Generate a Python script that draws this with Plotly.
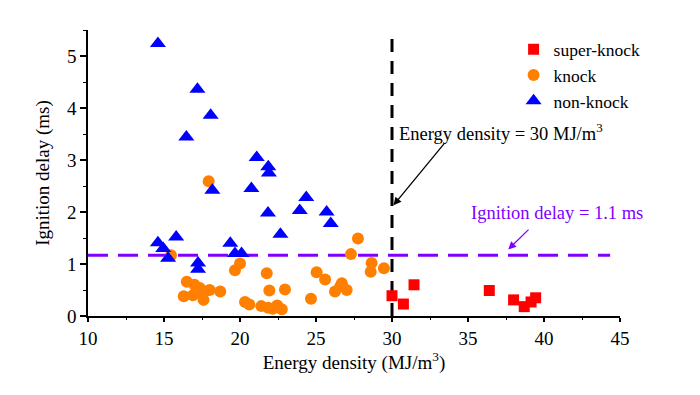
import plotly.graph_objects as go

# ---- data ----
super_x = [30.0, 30.75, 31.45, 36.4, 38.0, 38.7, 39.15, 39.45]
super_y = [0.39, 0.23, 0.60, 0.49, 0.31, 0.18, 0.27, 0.35]

knock_x = [15.46, 17.94, 16.5, 16.3, 16.9, 17.0, 17.35, 17.6, 17.7, 18.0, 18.7, 17.2,
           19.67, 20.0, 21.76, 21.93, 22.96, 20.33, 20.61, 21.4, 21.85, 22.15, 22.45, 22.75,
           24.67, 25.04, 25.6, 26.25, 26.6, 26.7, 27.02, 27.3, 27.76, 28.66, 28.6, 29.47]
knock_y = [1.17, 2.59, 0.66, 0.38, 0.40, 0.60, 0.54, 0.31, 0.47, 0.50, 0.47, 0.45,
           0.88, 1.01, 0.82, 0.49, 0.51, 0.27, 0.22, 0.19, 0.16, 0.14, 0.20, 0.13,
           0.33, 0.84, 0.70, 0.47, 0.57, 0.63, 0.50, 1.19, 1.49, 1.02, 0.85, 0.92]

non_x = [14.6, 17.2, 18.07, 16.47, 21.1, 21.86, 21.9, 18.18, 20.75, 24.36, 23.93, 21.84,
         25.7, 25.97, 22.66, 15.8, 14.6, 14.95, 15.27, 17.24, 17.24, 19.36, 19.67, 20.1]
non_y = [5.24, 4.36, 3.86, 3.44, 3.05, 2.87, 2.75, 2.42, 2.45, 2.28, 2.03, 1.98,
         2.0, 1.78, 1.57, 1.52, 1.41, 1.30, 1.11, 1.02, 0.90, 1.40, 1.20, 1.20]

energy_line_x = [30, 30]
energy_line_y = [0, 5.45]
delay_line_x = [10, 44.35]
delay_line_y = [1.17, 1.17]

x_ticks = [10, 15, 20, 25, 30, 35, 40, 45]
y_ticks = [0, 1, 2, 3, 4, 5]

FONT = "Liberation Serif"

fig = go.Figure()

fig.add_trace(go.Scatter(x=energy_line_x, y=energy_line_y, mode="lines",
                         line=dict(color="black", width=3, dash="13px,9px"),
                         showlegend=False, hoverinfo="skip"))
fig.add_trace(go.Scatter(x=delay_line_x, y=delay_line_y, mode="lines",
                         line=dict(color="#8000FF", width=3, dash="20px,10px"),
                         showlegend=False, hoverinfo="skip"))

fig.add_trace(go.Scatter(x=super_x, y=super_y, mode="markers", name="super-knock",
                         marker=dict(symbol="square", size=11, color="#FF0000")))
fig.add_trace(go.Scatter(x=knock_x, y=knock_y, mode="markers", name="knock",
                         marker=dict(symbol="circle", size=12, color="#FF8000")))
fig.add_trace(go.Scatter(x=non_x, y=non_y, mode="markers", name="non-knock",
                         marker=dict(symbol="triangle-up", size=14, color="#0000FF")))

fig.add_annotation(x=30.1, y=2.13, ax=33.5, ay=3.34, xref="x", yref="y",
                   axref="x", ayref="y", text="", showarrow=True,
                   arrowhead=2, arrowsize=1.2, arrowwidth=1.3, arrowcolor="black")
fig.add_annotation(x=30.3, y=3.54, xref="x", yref="y", xanchor="left", yanchor="middle",
                   text="Energy density = 30 MJ/m<sup>3</sup>", showarrow=False,
                   font=dict(family=FONT, size=18.5, color="black"))
fig.add_annotation(x=37.65, y=1.28, ax=39.08, ay=1.69, xref="x", yref="y",
                   axref="x", ayref="y", text="", showarrow=True,
                   arrowhead=2, arrowsize=1.2, arrowwidth=1.3, arrowcolor="#8000FF")
fig.add_annotation(x=40.83, y=1.98, xref="x", yref="y", xanchor="center", yanchor="middle",
                   text="Ignition delay = 1.1 ms", showarrow=False,
                   font=dict(family=FONT, size=18.5, color="#8000FF"))

fig.update_layout(
    width=692, height=387,
    margin=dict(l=80, r=80, t=22, b=79),
    paper_bgcolor="white", plot_bgcolor="white",
    font=dict(family=FONT, size=18, color="black"),
    showlegend=True,
    legend=dict(x=0.80, y=0.995, xanchor="left", yanchor="top",
                bgcolor="rgba(0,0,0,0)", font=dict(family=FONT, size=17.5),
                tracegroupgap=0, itemsizing="trace"),
    xaxis=dict(range=[10, 45], tickvals=x_ticks, showgrid=False, zeroline=False,
               showline=True, linecolor="black", linewidth=1.5,
               ticks="outside", ticklen=4, tickwidth=1.5, tickcolor="black",
               minor=dict(dtick=2.5, ticks="outside", ticklen=2, tickwidth=1.2, tickcolor="black"),
               tickfont=dict(family=FONT, size=19),
               title=dict(text="Energy density (MJ/m<sup>3</sup>)", font=dict(family=FONT, size=19), standoff=2)),
    yaxis=dict(range=[0, 5.5], tickvals=y_ticks, showgrid=False, zeroline=False,
               showline=True, linecolor="black", linewidth=1.5,
               ticks="outside", ticklen=6, tickwidth=1.5, tickcolor="black",
               minor=dict(dtick=0.5, ticks="outside", ticklen=3, tickwidth=1.2, tickcolor="black"),
               tickfont=dict(family=FONT, size=19),
               title=dict(text="Ignition delay (ms)", font=dict(family=FONT, size=19), standoff=12)),
)

fig.write_html("out.html")
